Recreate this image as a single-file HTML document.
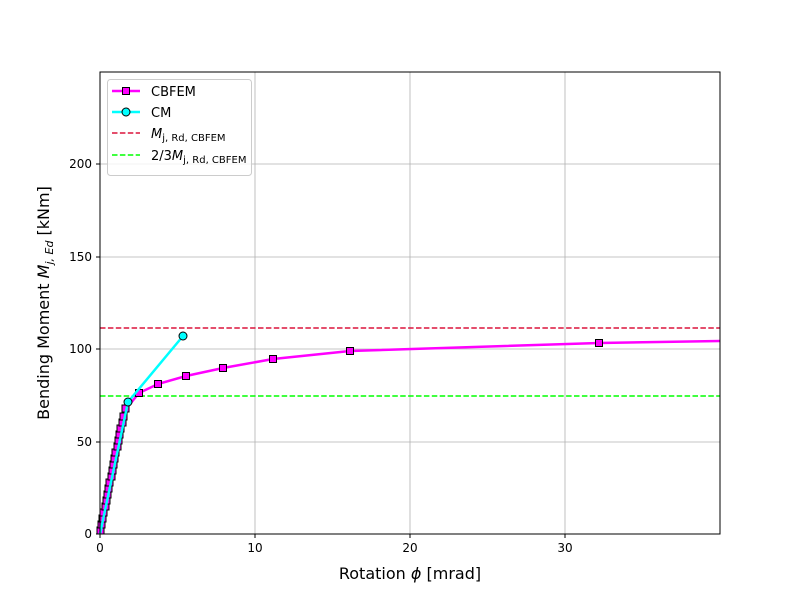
<!DOCTYPE html>
<html><head><style>body{margin:0;background:#fff}svg{display:block}</style></head><body>
<svg width="800" height="600" xmlns="http://www.w3.org/2000/svg" font-family="DejaVu Sans, Liberation Sans, sans-serif">
<rect width="800" height="600" fill="#fff"/>
<g stroke="#b0b0b0" stroke-width="0.8">
<line x1="255" y1="72" x2="255" y2="534"/><line x1="410" y1="72" x2="410" y2="534"/><line x1="565" y1="72" x2="565" y2="534"/>
<line x1="100" y1="442" x2="720" y2="442"/><line x1="100" y1="349" x2="720" y2="349"/><line x1="100" y1="257" x2="720" y2="257"/><line x1="100" y1="164" x2="720" y2="164"/>
</g>
<line x1="100" y1="328" x2="720" y2="328" stroke="#dc143c" stroke-width="1.5" stroke-dasharray="5.5,2.4"/>
<line x1="100" y1="396" x2="720" y2="396" stroke="#00ff00" stroke-width="1.5" stroke-dasharray="5.5,2.4"/>
<polyline fill="none" stroke="#ff00ff" stroke-width="2.5" points="100,534 126,409 139,393 158,384 186,376 223,368 273,359 350,351 599,343 720,341"/>
<g fill="#ff00ff" stroke="#000" stroke-width="1">
<rect x="97" y="527" width="7" height="7"/><rect x="98" y="521" width="7" height="7"/><rect x="99" y="515" width="7" height="7"/><rect x="100" y="509" width="7" height="7"/><rect x="102" y="503" width="7" height="7"/><rect x="103" y="497" width="7" height="7"/><rect x="104" y="491" width="7" height="7"/><rect x="105" y="485" width="7" height="7"/><rect x="106" y="479" width="7" height="7"/><rect x="108" y="473" width="7" height="7"/><rect x="109" y="467" width="7" height="7"/><rect x="110" y="461" width="7" height="7"/><rect x="111" y="455" width="7" height="7"/><rect x="112" y="449" width="7" height="7"/><rect x="114" y="443" width="7" height="7"/><rect x="115" y="437" width="7" height="7"/><rect x="116" y="431" width="7" height="7"/><rect x="117" y="425" width="7" height="7"/><rect x="119" y="419" width="7" height="7"/><rect x="120" y="413" width="7" height="7"/><rect x="122" y="405" width="7" height="7"/>
<rect x="135.5" y="389.5" width="7" height="7"/><rect x="154.5" y="380.5" width="7" height="7"/><rect x="182.5" y="372.5" width="7" height="7"/><rect x="219.5" y="364.5" width="7" height="7"/><rect x="269.5" y="355.5" width="7" height="7"/><rect x="346.5" y="347.5" width="7" height="7"/><rect x="595.5" y="339.5" width="7" height="7"/>
</g>
<polyline fill="none" stroke="#00ffff" stroke-width="2.5" points="100,534 128,402 183,336"/>
<g fill="#00ffff" stroke="#000" stroke-width="1"><circle cx="128" cy="402" r="4"/><circle cx="183" cy="336" r="4"/></g>
<rect x="100" y="72" width="620" height="462" fill="none" stroke="#000" stroke-width="1"/>
<g stroke="#000"><line x1="100" y1="534" x2="100" y2="538"/><line x1="255" y1="534" x2="255" y2="538"/><line x1="410" y1="534" x2="410" y2="538"/><line x1="565" y1="534" x2="565" y2="538"/>
<line x1="96" y1="534" x2="100" y2="534"/><line x1="96" y1="442" x2="100" y2="442"/><line x1="96" y1="349" x2="100" y2="349"/><line x1="96" y1="257" x2="100" y2="257"/><line x1="96" y1="164" x2="100" y2="164"/></g>
<g font-size="12" text-anchor="middle"><text x="100" y="552">0</text><text x="255" y="552">10</text><text x="410" y="552">20</text><text x="565" y="552">30</text></g>
<g font-size="12" text-anchor="end"><text x="92" y="538">0</text><text x="92" y="446">50</text><text x="92" y="353">100</text><text x="92" y="261">150</text><text x="92" y="168">200</text></g>
<text x="410" y="579" font-size="16" text-anchor="middle">Rotation <tspan font-style="italic">ϕ</tspan> [mrad]</text>
<text transform="translate(49,303) rotate(-90)" font-size="16" text-anchor="middle">Bending Moment <tspan font-style="italic">M</tspan><tspan font-size="11" dy="4" font-style="italic">j, Ed</tspan><tspan dy="-4"> [kNm]</tspan></text>
<rect x="107.5" y="79.5" width="144" height="96" rx="3" fill="#fff" fill-opacity="0.8" stroke="#ccc"/>
<line x1="112" y1="91" x2="140" y2="91" stroke="#ff00ff" stroke-width="2.5"/><rect x="122.5" y="87.5" width="7" height="7" fill="#ff00ff" stroke="#000"/>
<line x1="112" y1="112" x2="140" y2="112" stroke="#00ffff" stroke-width="2.5"/><circle cx="126" cy="112" r="4" fill="#00ffff" stroke="#000"/>
<line x1="112" y1="133" x2="140" y2="133" stroke="#dc143c" stroke-width="1.5" stroke-dasharray="5.5,2.4"/>
<line x1="112" y1="155" x2="140" y2="155" stroke="#00ff00" stroke-width="1.5" stroke-dasharray="5.5,2.4"/>
<g font-size="13"><text x="151" y="96">CBFEM</text><text x="151" y="117">CM</text>
<text x="151" y="138"><tspan font-style="italic">M</tspan><tspan font-size="10" dy="3">j, Rd, CBFEM</tspan></text>
<text x="151" y="160">2/3<tspan font-style="italic">M</tspan><tspan font-size="10" dy="3">j, Rd, CBFEM</tspan></text></g>
</svg>
</body></html>
